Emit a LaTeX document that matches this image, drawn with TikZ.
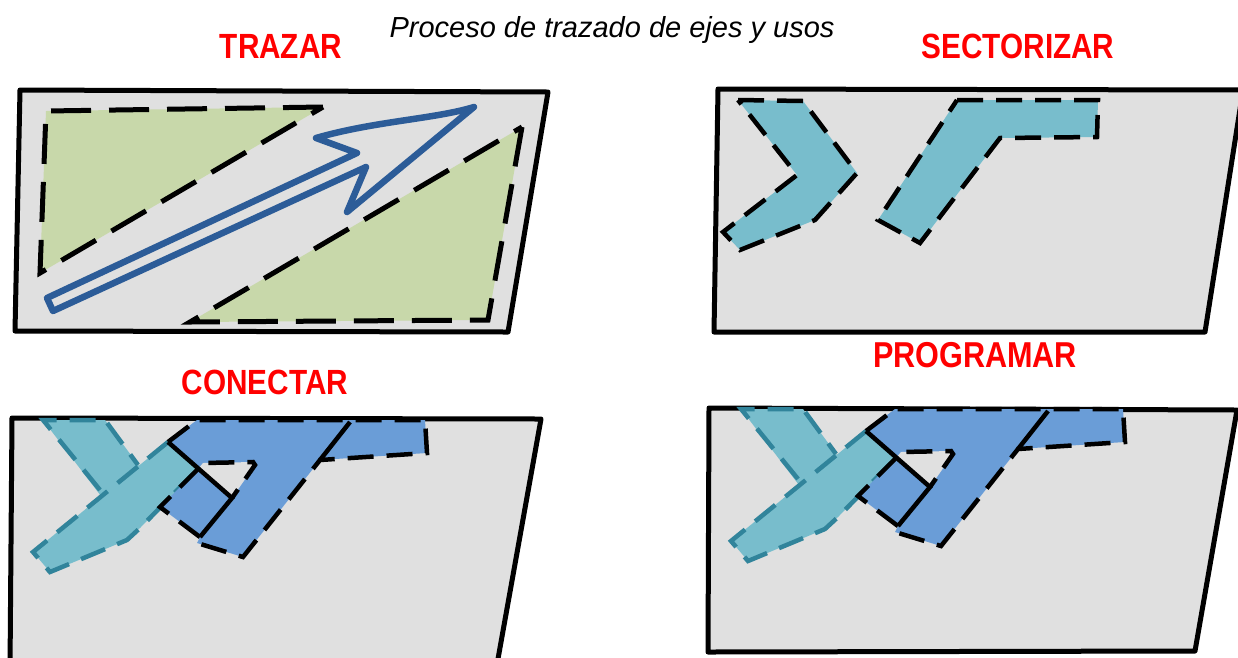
\documentclass[tikz,border=0pt]{standalone}
\usepackage{fontspec}
\setmainfont{Liberation Sans}
\newfontfamily\labelfont[FakeStretch=0.85]{Liberation Sans}

\definecolor{panelgray}{RGB}{224,224,224}
\definecolor{zonegreen}{RGB}{200,216,170}
\definecolor{zoneteal}{RGB}{120,189,204}
\definecolor{edgeteal}{RGB}{49,132,155}
\definecolor{zoneblue}{RGB}{106,157,215}
\definecolor{axisblue}{RGB}{44,92,152}

\tikzset{
  panel/.style={draw=black, line width=5pt, fill=panelgray, line join=round},
  cutline/.style={draw=black, line width=4.5pt, dash pattern=on 26pt off 13pt},
  longcut/.style={draw=black, line width=5pt, dash pattern=on 40pt off 18pt},
  tealcut/.style={draw=edgeteal, line width=4.5pt, dash pattern=on 26pt off 13pt},
  hardline/.style={draw=black, line width=4.5pt},
  stagename/.style={text=red, font=\labelfont\bfseries\fontsize{35}{40}\selectfont, anchor=base, inner sep=0pt},
}

\begin{document}
\begin{tikzpicture}[x=1pt, y=-1pt]
    \useasboundingbox (0,0) rectangle (1238,657);
    \clip (0,0) rectangle (1238,657);

    % Titles
    \node[font=\itshape\fontsize{29}{34}\selectfont, anchor=base, inner sep=0pt] (title) at (612,37) {Proceso de trazado de ejes y usos};
    \node[stagename] (trazar) at (281,58) {TRAZAR};
    \node[stagename] (sectorizar) at (1018,58) {SECTORIZAR};
    \node[stagename] (conectar) at (265,394) {CONECTAR};
    \node[stagename, font=\labelfont\bfseries\fontsize{36}{42}\selectfont] (programar) at (975,367) {PROGRAMAR};

    % Draw the four panels
    \draw[panel] (20,90) -- (548,92) -- (508,332) -- (15,331) -- cycle;
    \draw[panel] (718,89) -- (1243,90) -- (1205,332) -- (714,332) -- cycle;
    \draw[panel] (12,418) -- (541,419) -- (496,670) -- (10,670) -- cycle;
    \draw[panel] (709,408) -- (1237,410) -- (1195,651) -- (708,652) -- cycle;

    % TRAZAR: two zones and the axis
    \draw[longcut, fill=zonegreen] (323,107) -- (46,111) -- (40,273) -- cycle;
    \draw[longcut, fill=zonegreen] (522,127) -- (488,320) -- (190,322) -- cycle;
    \draw[axisblue, line width=6.5pt, line join=round, line cap=round]
        (47,298) -- (357,153) -- (316,138) .. controls (375,121) and (435,119) .. (474,107)
        -- (347,212) -- (366,167) -- (53,311) -- cycle;

    % SECTORIZAR: two sectors
    \draw[cutline, fill=zoneteal] (738,100) -- (803,101) -- (857,173) -- (815,220)
        -- (740,250) -- (723,232) -- (797,175) -- cycle;
    \draw[cutline, fill=zoneteal] (957,100) -- (1098,100) -- (1097,137) -- (1000,138)
        -- (920,243) -- (878,220) -- cycle;

    % CONECTAR and PROGRAMAR: joined sectors
    \foreach \dx/\dy in {0/0, 698/-11}{
      \begin{scope}[shift={(\dx,\dy)}]
        \coordinate (s1) at (168,442);
        \coordinate (s3) at (232,498);
        \coordinate (cross) at (198,469);

        % teal leg under the bar
        \fill[zoneteal] (43,420) -- (105,420) -- (142,470) -- (104,500) -- cycle;
        \draw[tealcut] (100,490) -- (43,420) -- (105,420) -- (138,465);

        % teal bar
        \fill[zoneteal] (s1) -- (cross) -- (140,528) -- (127,540) -- (50,572) -- (33,552) -- cycle;
        \draw[tealcut] (s1) -- (33,552) -- (50,572) -- (127,540) -- (140,528) -- (cross);

        % blue sector with its opening
        \fill[zoneblue] (s1) -- (197,420) -- (425,420) -- (427,453) -- (320,460) -- (243,557)
            -- (197,543) -- (200,537) -- (160,507) -- (cross) -- cycle;
        \fill[panelgray] (cross) -- (203,463) -- (253,462) -- (255,465) -- (s3) -- cycle;
        \draw[cutline] (s1) -- (197,420) -- (425,420) -- (427,453) -- (320,460) -- (243,557) -- (197,543);
        \draw[cutline] (200,537) -- (160,507) -- (cross) -- (203,463) -- (253,462) -- (255,465) -- (s3);
        \draw[hardline] (s1) -- (s3) -- (200,537);
        \draw[hardline] (320,460) -- (350,422);
      \end{scope}
    }
\end{tikzpicture}
\end{document}
